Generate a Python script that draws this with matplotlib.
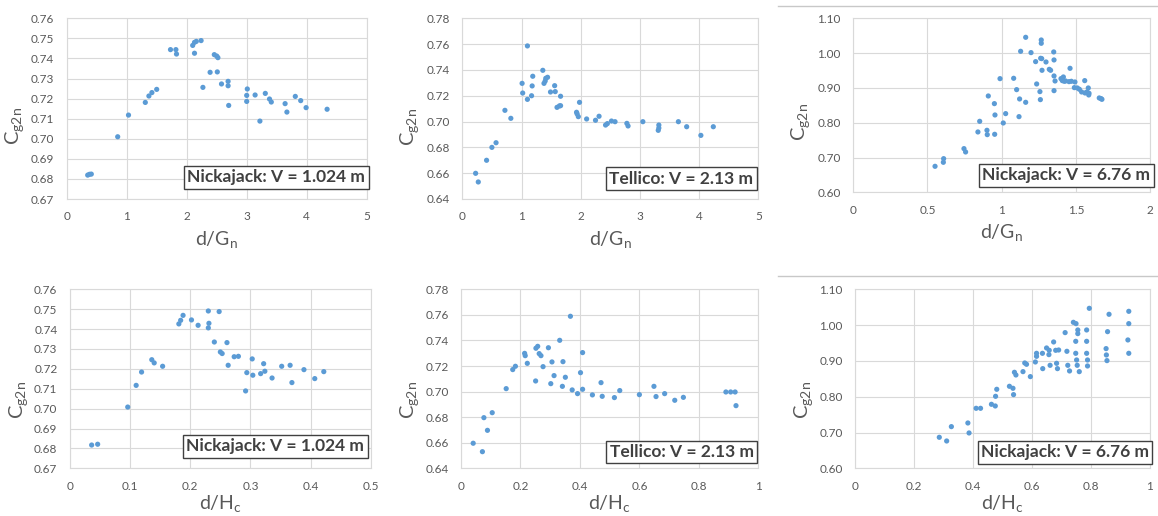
import matplotlib
matplotlib.use("Agg")
import matplotlib.pyplot as plt
from matplotlib.lines import Line2D
from matplotlib.ticker import FixedLocator, FixedFormatter

plt.rcParams['font.family'] = ['Lato', 'DejaVu Sans']

# ---------------- data ----------------
nick1_dG_x = [0.35, 0.38, 0.41, 0.85, 1.03, 1.31, 1.37, 1.42, 1.50, 1.73, 1.82, 1.83, 2.10, 2.13,
              2.16, 2.13, 2.24, 2.27, 2.39, 2.46, 2.50, 2.52, 2.51, 2.58, 2.69, 2.69, 2.70, 3.00,
              3.00, 3.01, 3.14, 3.22, 3.31, 3.38, 3.41, 3.64, 3.67, 3.81, 3.90, 3.99, 4.34]
nick1_dG_y = [0.6819, 0.6823, 0.6824, 0.7010, 0.7118, 0.7181, 0.7213, 0.7230, 0.7246, 0.7444,
              0.7444, 0.7422, 0.7465, 0.7480, 0.7485, 0.7426, 0.7489, 0.7256, 0.7331, 0.7419,
              0.7412, 0.7404, 0.7333, 0.7273, 0.7286, 0.7264, 0.7166, 0.7216, 0.7186, 0.7248,
              0.7218, 0.7088, 0.7226, 0.7198, 0.7183, 0.7175, 0.7133, 0.7211, 0.7190, 0.7155,
              0.7147]

tell_dG_x = [0.225, 0.27, 0.41, 0.50, 0.57, 0.72, 0.82, 1.01, 1.02, 1.10, 1.10, 1.17, 1.19, 1.18,
             1.36, 1.38, 1.40, 1.41, 1.44, 1.49, 1.56, 1.57, 1.60, 1.64, 1.66, 1.66, 1.93, 1.94,
             1.96, 1.98, 2.10, 2.25, 2.31, 2.42, 2.45, 2.52, 2.58, 2.78, 2.80, 3.05, 3.32, 3.32,
             3.31, 3.65, 3.79, 4.03, 4.24]
tell_dG_y = [0.6599, 0.6532, 0.6700, 0.6800, 0.6836, 0.7087, 0.7025, 0.7296, 0.7221, 0.7586,
             0.7172, 0.7200, 0.7351, 0.7276, 0.7397, 0.7296, 0.7314, 0.7335, 0.7343, 0.7229,
             0.7278, 0.7232, 0.7110, 0.7121, 0.7123, 0.7196, 0.7072, 0.7059, 0.7038, 0.7149,
             0.7020, 0.7010, 0.7041, 0.6973, 0.6984, 0.7004, 0.6999, 0.6986, 0.6966, 0.6999,
             0.6973, 0.6950, 0.6932, 0.6999, 0.6960, 0.6893, 0.6960]

nick6_dG_x = [0.551, 0.607, 0.609, 0.746, 0.757, 0.840, 0.852, 0.901, 0.903, 0.910, 0.951, 0.955,
              0.953, 0.989, 1.011, 1.027, 1.081, 1.101, 1.117, 1.121, 1.128, 1.162, 1.162, 1.198,
              1.229, 1.236, 1.258, 1.261, 1.263, 1.267, 1.267, 1.270, 1.272, 1.299, 1.321, 1.330,
              1.351, 1.353, 1.353, 1.353, 1.360, 1.400, 1.409, 1.416, 1.422, 1.431, 1.454, 1.461,
              1.470, 1.494, 1.490, 1.510, 1.524, 1.539, 1.560, 1.562, 1.575, 1.584, 1.587, 1.589,
              1.658, 1.670, 1.676]
nick6_dG_y = [0.6747, 0.6862, 0.6967, 0.7255, 0.7159, 0.7734, 0.8040, 0.7782, 0.7657, 0.8768,
              0.8548, 0.8222, 0.7667, 0.9266, 0.7992, 0.8261, 0.9276, 0.8950, 0.8174, 0.8682,
              1.0052, 1.0454, 0.8586, 1.0014, 0.9755, 0.9113, 0.8893, 0.8663, 0.9851, 1.0377,
              1.0282, 0.9841, 0.9506, 0.9745, 0.9534, 0.9506, 1.0033, 0.9803, 0.9343, 0.8921,
              0.9199, 0.9266, 0.9209, 0.9314, 0.9190, 0.9199, 0.9180, 0.9563, 0.9190, 0.9170,
              0.9008, 0.8998, 0.8960, 0.8883, 0.9209, 0.8854, 0.8883, 0.8998, 0.8797, 0.8845,
              0.8711, 0.8692, 0.8672]

nick1_dH_x = [0.036, 0.046, 0.096, 0.110, 0.119, 0.136, 0.140, 0.154, 0.181, 0.184, 0.188, 0.202,
              0.213, 0.230, 0.231, 0.230, 0.240, 0.248, 0.250, 0.253, 0.261, 0.263, 0.273, 0.280,
              0.292, 0.294, 0.303, 0.304, 0.317, 0.322, 0.324, 0.336, 0.352, 0.366, 0.369, 0.389,
              0.407, 0.422]
nick1_dH_y = [0.6817, 0.6821, 0.7008, 0.7117, 0.7184, 0.7246, 0.7230, 0.7213, 0.7426, 0.7444,
              0.7469, 0.7446, 0.7419, 0.7491, 0.7429, 0.7406, 0.7335, 0.7488, 0.7285, 0.7277,
              0.7332, 0.7218, 0.7261, 0.7263, 0.7089, 0.7181, 0.7250, 0.7168, 0.7176, 0.7226,
              0.7188, 0.7154, 0.7213, 0.7218, 0.7131, 0.7196, 0.7151, 0.7186]

tell_dH_x = [0.041, 0.072, 0.077, 0.089, 0.105, 0.152, 0.174, 0.183, 0.214, 0.216, 0.223, 0.251,
             0.252, 0.258, 0.263, 0.269, 0.276, 0.294, 0.302, 0.306, 0.313, 0.332, 0.341, 0.343,
             0.351, 0.368, 0.374, 0.392, 0.402, 0.409, 0.409, 0.442, 0.471, 0.475, 0.516, 0.534,
             0.600, 0.649, 0.656, 0.685, 0.719, 0.748, 0.891, 0.907, 0.922, 0.925]
tell_dH_y = [0.6596, 0.6530, 0.6796, 0.6697, 0.6835, 0.7023, 0.7172, 0.7198, 0.7299, 0.7281,
             0.7221, 0.7083, 0.7339, 0.7354, 0.7297, 0.7281, 0.7195, 0.7343, 0.7062, 0.7232,
             0.7125, 0.7401, 0.7041, 0.7234, 0.7112, 0.7589, 0.7013, 0.6984, 0.7148, 0.7305,
             0.7018, 0.6974, 0.7070, 0.6963, 0.6953, 0.7008, 0.6976, 0.7041, 0.6961, 0.6984,
             0.6932, 0.6955, 0.6997, 0.6997, 0.6997, 0.6890]

nick6_dH_x = [0.285, 0.310, 0.326, 0.382, 0.386, 0.410, 0.425, 0.462, 0.475, 0.476, 0.480, 0.523,
              0.535, 0.537, 0.540, 0.545, 0.569, 0.575, 0.581, 0.594, 0.611, 0.615, 0.615, 0.635,
              0.636, 0.649, 0.657, 0.658, 0.661, 0.673, 0.680, 0.683, 0.686, 0.690, 0.712, 0.718,
              0.721, 0.727, 0.740, 0.749, 0.748, 0.748, 0.751, 0.753, 0.755, 0.755, 0.760, 0.785,
              0.785, 0.785, 0.788, 0.788, 0.794, 0.851, 0.852, 0.854, 0.856, 0.861, 0.928, 0.928,
              0.925, 0.928]
nick6_dH_y = [0.6866, 0.6763, 0.7164, 0.7266, 0.6987, 0.7676, 0.7676, 0.7788, 0.7741, 0.8011,
              0.8207, 0.8291, 0.8235, 0.8058, 0.8682, 0.8607, 0.8700, 0.8942, 0.8905, 0.8561,
              0.8970, 0.9212, 0.9128, 0.9212, 0.8784, 0.9361, 0.9175, 0.9296, 0.8877, 0.9529,
              0.9296, 0.8933, 0.8784, 0.9305, 0.9790, 0.9268, 0.8877, 0.8719, 1.0078, 1.0041,
              0.9547, 0.9212, 0.9026, 0.8877, 0.9864, 0.9762, 0.8700, 0.9864, 0.9547, 0.9212,
              0.9026, 0.8858, 1.0469, 0.9343, 0.9166, 0.9008, 0.9817, 1.0302, 1.0385, 1.0041,
              0.9585, 0.9212]

yticks_small = [0.67, 0.68, 0.69, 0.70, 0.71, 0.72, 0.73, 0.74, 0.75, 0.76]
yticks_tell = [0.64, 0.66, 0.68, 0.70, 0.72, 0.74, 0.76, 0.78]
yticks_big = [0.60, 0.70, 0.80, 0.90, 1.00, 1.10]
xticks_G5 = [0, 1, 2, 3, 4, 5]
xticks_G2 = [0, 0.5, 1, 1.5, 2]
xticks_H05 = [0, 0.1, 0.2, 0.3, 0.4, 0.5]
xticks_H1 = [0, 0.2, 0.4, 0.6, 0.8, 1]
xlabels_G5 = ['0', '1', '2', '3', '4', '5']
xlabels_G2 = ['0', '0.5', '1', '1.5', '2']
xlabels_H05 = ['0', '0.1', '0.2', '0.3', '0.4', '0.5']
xlabels_H1 = ['0', '0.2', '0.4', '0.6', '0.8', '1']

titles = ['Nickajack: V = 1.024 m', 'Tellico: V = 2.13 m', 'Nickajack: V = 6.76 m',
          'Nickajack: V = 1.024 m', 'Tellico: V = 2.13 m', 'Nickajack: V = 6.76 m']

# ---------------- layout ----------------
W, H = 1158, 516
fig = plt.figure(figsize=(W / 100, H / 100), dpi=100)
fig.patch.set_facecolor('white')

def px_axes(x0, y0, x1, y1):
    return fig.add_axes([x0 / W, 1 - y1 / H, (x1 - x0) / W, (y1 - y0) / H])

panels = [
    dict(rect=(66.7, 18.3, 366.7, 199), x=nick1_dG_x, y=nick1_dG_y, xt=xticks_G5, xl=xlabels_G5,
         yt=yticks_small, xlab=r'$\mathregular{d/G_n}$', box=(276.3, 177.2), yoff=41, ylc=125.5, xoff=30),
    dict(rect=(462.3, 18.3, 758.3, 199), x=tell_dG_x, y=tell_dG_y, xt=xticks_G5, xl=xlabels_G5,
         yt=yticks_tell, xlab=r'$\mathregular{d/G_n}$', box=(681.2, 178.8), yoff=41, ylc=126.5, xoff=30),
    dict(rect=(853.3, 18.3, 1150, 192.3), x=nick6_dG_x, y=nick6_dG_y, xt=xticks_G2, xl=xlabels_G2,
         yt=yticks_big, xlab=r'$\mathregular{d/G_n}$', box=(1066.3, 175.3), yoff=41, ylc=122, xoff=30),
    dict(rect=(70, 289.3, 370.7, 468.3), x=nick1_dH_x, y=nick1_dH_y, xt=xticks_H05, xl=xlabels_H05,
         yt=yticks_small, xlab=r'$\mathregular{d/H_c}$', box=(275.3, 446.3), yoff=40, ylc=399.5, xoff=25),
    dict(rect=(461, 289.3, 758.3, 468.3), x=tell_dH_x, y=tell_dH_y, xt=xticks_H1, xl=xlabels_H1,
         yt=yticks_tell, xlab=r'$\mathregular{d/H_c}$', box=(681.7, 452), yoff=40, ylc=399.5, xoff=25),
    dict(rect=(855.3, 289.3, 1150, 468.3), x=nick6_dH_x, y=nick6_dH_y, xt=xticks_H1, xl=xlabels_H1,
         yt=yticks_big, xlab=r'$\mathregular{d/H_c}$', box=(1065, 452.3), yoff=40, ylc=399.5, xoff=25),
]

grid_c = '#d9d9d9'
tick_c = '#595959'
pt_c = '#5b9bd5'

for p, title in zip(panels, titles):
    x0, y0, x1, y1 = p['rect']
    ax = px_axes(x0, y0, x1, y1)
    ax.scatter(p['x'], p['y'], s=14, color=pt_c, edgecolors='none', zorder=3)
    ax.set_xlim(p['xt'][0], p['xt'][-1])
    ax.set_ylim(p['yt'][0], p['yt'][-1])
    ax.xaxis.set_major_locator(FixedLocator(p['xt']))
    ax.xaxis.set_major_formatter(FixedFormatter(p['xl']))
    ax.yaxis.set_major_locator(FixedLocator(p['yt']))
    ax.yaxis.set_major_formatter(FixedFormatter(['%.2f' % v for v in p['yt']]))
    ax.grid(True, color=grid_c, linewidth=0.8, zorder=0)
    ax.set_axisbelow(True)
    for s in ax.spines.values():
        s.set_color(grid_c)
        s.set_linewidth(0.8)
    ax.tick_params(length=0, pad=9, labelsize=8.5, colors=tick_c)
    ax.set_xlabel(p['xlab'], fontsize=14, color=tick_c)
    ax.set_ylabel(r'$\mathregular{C_{g2n}}$', fontsize=14.5, color=tick_c)
    wpx = x1 - x0
    hpx = y1 - y0
    ax.yaxis.set_label_coords(-p['yoff'] / wpx, (y1 - p['ylc']) / hpx)
    ax.xaxis.set_label_coords(0.5, -p['xoff'] / hpx)
    bx, by = p['box']
    fig.text(bx / W, 1 - by / H, title, ha='center', va='center', fontsize=12.5,
             fontweight='bold', color='#404040',
             bbox=dict(boxstyle='square,pad=0.2', fc='white', ec='#404040', lw=1.0))

# thin gray border lines at top of the right column charts
fig.add_artist(Line2D([778 / W, 1.0], [1 - 6 / H, 1 - 6 / H], color='#c8c8c8', lw=1.0))
fig.add_artist(Line2D([778 / W, 1.0], [1 - 276 / H, 1 - 276 / H], color='#c8c8c8', lw=1.0))

fig.savefig('out.png', dpi=100, facecolor='white')
